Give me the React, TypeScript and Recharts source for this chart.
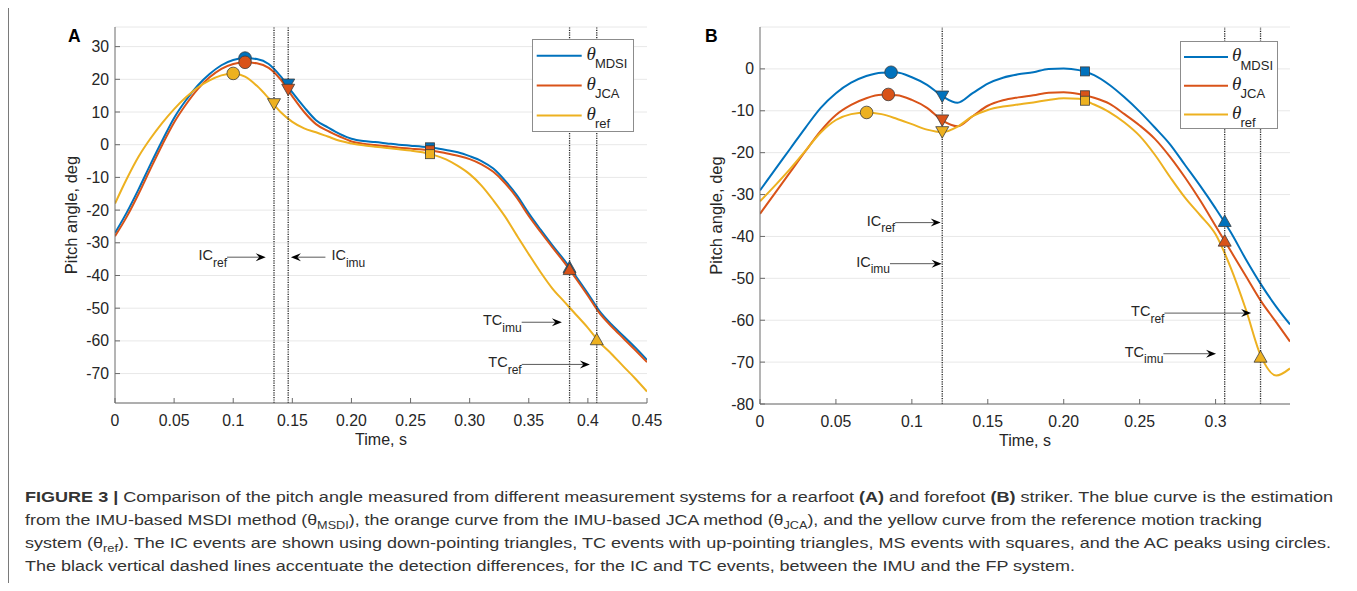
import React from "react";
import {
  CartesianGrid,
  ComposedChart,
  Legend,
  Line,
  ReferenceLine,
  Scatter,
  XAxis,
  YAxis,
} from "recharts";

const SANS = "'Liberation Sans', Arial, Helvetica, sans-serif";
const TEXT = "#262626";
const AXIS = "#6b6b6b";

const seriesKeys = ["mdsi", "jca", "ref"];
const seriesNames = ["MDSI", "JCA", "ref"];
const seriesColors = ["#0072BD", "#D95319", "#EDB120"];

// ---------- panel A: rearfoot striker ----------
const timeA = [
  0, 0.01, 0.02, 0.03, 0.04, 0.05, 0.06, 0.07, 0.08, 0.09, 0.1, 0.11, 0.12, 0.13, 0.14, 0.15,
  0.16, 0.17, 0.18, 0.19, 0.2, 0.21, 0.22, 0.23, 0.24, 0.25, 0.26, 0.27, 0.28, 0.29, 0.3, 0.31,
  0.32, 0.33, 0.34, 0.35, 0.36, 0.37, 0.38, 0.39, 0.4, 0.41, 0.42, 0.43, 0.44, 0.45,
];
const mdsiA = [
  -27, -20.7, -13.6, -6, 1.3, 8.2, 13.6, 18.1, 21.6, 24.3, 25.9, 26.5, 26.2, 24.7, 21, 16, 11.5,
  7.5, 5.3, 3.3, 1.8, 1.1, 0.8, 0.4, 0, -0.3, -0.6, -1, -1.6, -2.3, -3.5, -5, -7.3, -11, -15.5,
  -21, -26, -30.8, -35.3, -40.3, -45.5, -51, -55, -58.5, -62, -65.8,
];
const jcaA = [
  -28, -22, -15, -7.4, 0, 6.8, 12.3, 17, 20.6, 23.2, 24.7, 25.2, 24.9, 23.5, 20, 14.8, 10, 6.3,
  4.2, 2.5, 1, 0.3, -0.1, -0.5, -0.9, -1.2, -1.5, -1.9, -2.6, -3.4, -4.4, -6, -8.3, -11.8, -16.3,
  -21.8, -26.7, -31.4, -36, -41, -46.2, -51.6, -55.6, -59.2, -62.8, -66.5,
];
const refA = [
  -18, -10.4, -3.6, 1.9, 6.7, 10.9, 14.5, 17.5, 19.7, 21.2, 21.8, 20.8, 18, 14.2, 10, 7, 5, 3.8,
  2.5, 1.2, 0.4, -0.2, -0.6, -1, -1.4, -1.8, -2.3, -3.2, -4.5, -6.5, -9, -12.5, -17, -22, -27.8,
  -33.5, -39, -44, -48, -52, -56, -60.5, -64, -67.8, -71.5, -75.5,
];
// events, ordered MDSI, JCA, ref
const acTimeA = [0.11, 0.11, 0.1];
const acValueA = [26.5, 25.2, 21.8];
const icTimeA = [0.1465, 0.1465, 0.1345];
const icValueA = [18.4, 16.8, 12.4];
const msTimeA = [0.2665, 0.2665, 0.2665];
const msValueA = [-0.8, -1.7, -2.9];
const tcTimeA = [0.3845, 0.3845, 0.4075];
const tcValueA = [-37.4, -38, -59.5];
const eventLinesA = [0.1345, 0.1465, 0.3845, 0.4075];
const arrowTextA = ["IC", "IC", "TC", "TC"];
const arrowSubA = ["ref", "imu", "imu", "ref"];
const arrowTailA = [0.0948, 0.178, 0.344, 0.344];
const arrowTipA = [0.1275, 0.1488, 0.378, 0.4017];
const arrowLevelA = [-34.4, -34.4, -54.3, -67.2];
const xTicksA = [0, 0.05, 0.1, 0.15, 0.2, 0.25, 0.3, 0.35, 0.4, 0.45];
const xTickLabelsA = ["0", "0.05", "0.1", "0.15", "0.20", "0.25", "0.30", "0.35", "0.4", "0.45"];
const yTicksA = [30, 20, 10, 0, -10, -20, -30, -40, -50, -60, -70];

// ---------- panel B: forefoot striker ----------
const timeB = [
  0, 0.01, 0.02, 0.03, 0.04, 0.05, 0.06, 0.07, 0.08, 0.09, 0.1, 0.11, 0.12, 0.13, 0.14, 0.15,
  0.16, 0.17, 0.18, 0.19, 0.2, 0.21, 0.22, 0.23, 0.24, 0.25, 0.26, 0.27, 0.28, 0.29, 0.3, 0.31,
  0.32, 0.33, 0.34, 0.349,
];
const mdsiB = [
  -29, -24, -19, -14, -9.3, -5.8, -3.3, -1.7, -0.9, -0.85, -2, -3.8, -6.5, -8.1, -5.8, -3.5, -2.1,
  -1.3, -0.8, 0, 0.1, -0.3, -1.5, -3.8, -6.8, -10.2, -14, -18, -23, -28, -33.3, -39, -45.5, -51.5,
  -56.8, -61,
];
const jcaB = [
  -34.6, -29.6, -24.6, -19.6, -14.8, -11, -8.6, -7, -6.2, -6.3, -7.4, -9.3, -12.3, -13.7, -11.3,
  -8.8, -7.5, -6.8, -6.3, -5.7, -5.6, -6, -6.9, -8.3, -10.8, -13.5, -16.7, -21, -26, -31.5, -37.5,
  -43.5, -49.5, -55.5, -60.5, -65.1,
];
const refB = [
  -31.6, -27.8, -23.8, -19.5, -15.2, -12.2, -10.8, -10.4, -10.8, -11.9, -13.2, -14.5, -15.1,
  -13.8, -11.3, -9.8, -9, -8.5, -8, -7.4, -7, -7.1, -8.5, -10.3, -12.8, -16, -20.5, -25.8, -30.8,
  -35, -39.5, -47.5, -57.5, -68.7, -73.2, -71.5,
];
const acTimeB = [0.0863, 0.0845, 0.0702];
const acValueB = [-0.8, -6.1, -10.4];
const icTimeB = [0.12, 0.12, 0.12];
const icValueB = [-6.6, -12.3, -15.1];
const msTimeB = [0.214, 0.214, 0.214];
const msValueB = [-0.6, -6.3, -7.6];
const tcTimeB = [0.306, 0.306, 0.3296];
const tcValueB = [-36.3, -41, -68.7];
const eventLinesB = [0.12, 0.306, 0.3296];
const arrowTextB = ["IC", "IC", "TC", "TC"];
const arrowSubB = ["ref", "imu", "ref", "imu"];
const arrowTailB = [0.089, 0.0856, 0.2663, 0.2656];
const arrowTipB = [0.119, 0.1196, 0.3234, 0.3003];
const arrowLevelB = [-36.7, -46.5, -58.3, -68];
const xTicksB = [0, 0.05, 0.1, 0.15, 0.2, 0.25, 0.3];
const xTickLabelsB = ["0", "0.05", "0.1", "0.15", "0.20", "0.25", "0.3"];
const yTicksB = [0, -10, -20, -30, -40, -50, -60, -70, -80];

const buildTable = (time: number[], cols: number[][]) =>
  time.map((t, i) => ({ t, mdsi: cols[0][i], jca: cols[1][i], ref: cols[2][i] }));

const buildMarkers = (s: number, ev: { kind: string; time: number[]; value: number[] }[]) =>
  ev.map((e) => ({ t: e.time[s], v: e.value[s], kind: e.kind }));

const markerShape = (color: string) => (p: any) => {
  const { cx, cy, payload } = p;
  const edge = "#3c3c3c";
  if (payload.kind === "ac")
    return <circle cx={cx} cy={cy} r={6.3} fill={color} stroke={edge} strokeWidth={0.8} />;
  if (payload.kind === "ms")
    return <rect x={cx - 4.5} y={cy - 4.5} width={9} height={9} fill={color} stroke={edge} strokeWidth={0.8} />;
  const d = payload.kind === "ic" ? 1 : -1;
  const pts = `${cx - 6.5},${cy - 5.5 * d} ${cx + 6.5},${cy - 5.5 * d} ${cx},${cy + 6 * d}`;
  return <polygon points={pts} fill={color} stroke={edge} strokeWidth={0.8} />;
};

const arrowShape = (main: string, sub: string) => (p: any) => {
  const { x1, y1, x2, y2 } = p;
  const dir = x2 > x1 ? 1 : -1;
  const L = 10;
  const W = 8;
  const bx = x2 - dir * L;
  const nx = x2 - dir * L * 0.65;
  return (
    <g>
      <line x1={x1} y1={y1} x2={nx} y2={y2} stroke="#5a5a5a" strokeWidth={1} />
      <polygon points={`${x2},${y2} ${bx},${y2 - W / 2} ${nx},${y2} ${bx},${y2 + W / 2}`} fill="#000" />
      <text
        x={dir > 0 ? x1 : x1 + 6}
        y={y1 + 3}
        textAnchor={dir > 0 ? "end" : "start"}
        fontFamily={SANS}
        fontSize={14.5}
        fill={TEXT}
      >
        {main}
        <tspan dy={6.5} fontSize={12}>
          {sub}
        </tspan>
      </text>
    </g>
  );
};

const xTick = (ticks: number[], labels: string[]) => (p: any) => {
  const { x, y, payload } = p;
  const i = ticks.findIndex((v) => Math.abs(v - payload.value) < 1e-9);
  return (
    <g>
      <line x1={x} y1={y} x2={x} y2={y - 5} stroke={AXIS} />
      <text x={x} y={y + 23} textAnchor="middle" fontFamily={SANS} fontSize={15.8} fill={TEXT}>
        {labels[i]}
      </text>
    </g>
  );
};

const yTick = (p: any) => {
  const { x, y, payload } = p;
  return (
    <g>
      <line x1={x} y1={y} x2={x + 5} y2={y} stroke={AXIS} />
      <text x={x - 6} y={y + 5.5} textAnchor="end" fontFamily={SANS} fontSize={15.8} fill={TEXT}>
        {payload.value}
      </text>
    </g>
  );
};

type LegendBox = { w: number; h: number; row0: number; gap: number; lx0: number; lx1: number; tx: number };

const legendContent = (b: LegendBox) => (props: any) => {
  const items = (props.payload || [])
    .filter((it: any) => seriesNames.includes(it.value))
    .sort((a: any, c: any) => seriesNames.indexOf(a.value) - seriesNames.indexOf(c.value));
  return (
    <div
      style={{
        width: b.w,
        height: b.h,
        boxSizing: "border-box",
        border: "1px solid #8c8c8c",
        background: "#fff",
      }}
    >
      <svg width={b.w - 2} height={b.h - 2} style={{ display: "block", overflow: "visible" }}>
        {items.map((it: any, i: number) => {
          const y = b.row0 + i * b.gap;
          return (
            <g key={it.value}>
              <line x1={b.lx0} x2={b.lx1} y1={y} y2={y} stroke={it.color} strokeWidth={2} />
              <text
                x={b.tx}
                y={y + 4}
                fontFamily="'Liberation Serif', 'DejaVu Serif', serif"
                fontStyle="italic"
                fontSize={19}
                fill={TEXT}
              >
                θ
              </text>
              <text x={b.tx + 8.5} y={y + 12.5} fontFamily={SANS} fontSize={13} fill={TEXT}>
                {it.value}
              </text>
            </g>
          );
        })}
      </svg>
    </div>
  );
};

type PanelProps = {
  left: number;
  width: number;
  yAxisWidth: number;
  marginRight: number;
  marginBottom: number;
  time: number[];
  cols: number[][];
  events: { kind: string; time: number[]; value: number[] }[];
  xDomain: [number, number];
  yDomain: [number, number];
  xTicks: number[];
  xLabels: string[];
  yTicks: number[];
  eventLines: number[];
  arrowText: string[];
  arrowSub: string[];
  arrowTail: number[];
  arrowTip: number[];
  arrowLevel: number[];
  legendPos: { left: number; top: number };
  legendBox: LegendBox;
};

const PitchPanel = (p: PanelProps) => {
  const table = buildTable(p.time, p.cols);
  return (
    <div style={{ position: "absolute", left: p.left, top: 0 }}>
      <ComposedChart
        width={p.width}
        height={455}
        data={table}
        margin={{ top: 19, right: p.marginRight, bottom: p.marginBottom, left: 0 }}
      >
        <CartesianGrid vertical={false} stroke="#e8e8e8" />
        <XAxis
          dataKey="t"
          type="number"
          domain={p.xDomain}
          allowDataOverflow
          ticks={p.xTicks}
          interval={0}
          height={50}
          tickSize={0}
          tickMargin={0}
          tickLine={false}
          axisLine={{ stroke: AXIS }}
          tick={xTick(p.xTicks, p.xLabels)}
          label={(lp: any) => {
            const vb = lp.viewBox;
            return (
              <text x={vb.x + vb.width / 2} y={vb.y + 42} textAnchor="middle" fontFamily={SANS} fontSize={16} fill={TEXT}>
                Time, s
              </text>
            );
          }}
        />
        <YAxis
          type="number"
          domain={p.yDomain}
          allowDataOverflow
          ticks={p.yTicks}
          interval={0}
          width={p.yAxisWidth}
          tickSize={0}
          tickMargin={0}
          tickLine={false}
          axisLine={{ stroke: AXIS }}
          tick={yTick}
          label={(lp: any) => {
            const vb = lp.viewBox;
            const x = vb.x + vb.width - 38;
            const y = vb.y + vb.height / 2;
            return (
              <text
                x={x}
                y={y}
                transform={`rotate(-90, ${x}, ${y})`}
                textAnchor="middle"
                fontFamily={SANS}
                fontSize={16.5}
                fill={TEXT}
              >
                Pitch angle, deg
              </text>
            );
          }}
        />
        {seriesKeys.map((k, s) => (
          <Line
            key={k}
            dataKey={k}
            name={seriesNames[s]}
            type="monotone"
            stroke={seriesColors[s]}
            strokeWidth={2}
            dot={false}
            activeDot={false}
            isAnimationActive={false}
          />
        ))}
        {seriesKeys.map((k, s) => (
          <Scatter
            key={`m-${k}`}
            data={buildMarkers(s, p.events)}
            dataKey="v"
            fill={seriesColors[s]}
            legendType="none"
            shape={markerShape(seriesColors[s])}
            isAnimationActive={false}
          />
        ))}
        {p.eventLines.map((x) => (
          <ReferenceLine key={`v-${x}`} x={x} stroke="#222" strokeWidth={1.3} strokeDasharray="1.2 1.2" />
        ))}
        {p.arrowText.map((txt, i) => (
          <ReferenceLine
            key={`a-${i}`}
            segment={[
              { x: p.arrowTail[i], y: p.arrowLevel[i] },
              { x: p.arrowTip[i], y: p.arrowLevel[i] },
            ]}
            ifOverflow="visible"
            shape={arrowShape(txt, p.arrowSub[i])}
          />
        ))}
        <Legend
          layout="horizontal"
          verticalAlign="middle"
          align="center"
          content={legendContent(p.legendBox)}
          wrapperStyle={{ left: p.legendPos.left, top: p.legendPos.top, width: p.legendBox.w }}
        />
      </ComposedChart>
    </div>
  );
};

const eventsOf = (time: number[][], value: number[][]) =>
  ["ac", "ic", "ms", "tc"].map((kind, i) => ({ kind, time: time[i], value: value[i] }));

export default function App() {
  return (
    <div style={{ position: "relative", width: 1341, height: 575, fontFamily: SANS }}>
      <PitchPanel
        left={0}
        width={660}
        yAxisWidth={107}
        marginRight={21}
        marginBottom={10}
        time={timeA}
        cols={[mdsiA, jcaA, refA]}
        events={eventsOf([acTimeA, icTimeA, msTimeA, tcTimeA], [acValueA, icValueA, msValueA, tcValueA])}
        xDomain={[0, 0.45]}
        yDomain={[-79, 36]}
        xTicks={xTicksA}
        xLabels={xTickLabelsA}
        yTicks={yTicksA}
        eventLines={eventLinesA}
        arrowText={arrowTextA}
        arrowSub={arrowSubA}
        arrowTail={arrowTailA}
        arrowTip={arrowTipA}
        arrowLevel={arrowLevelA}
        legendPos={{ left: 524, top: 31 }}
        legendBox={{ w: 102, h: 93, row0: 15.7, gap: 29.9, lx0: 3.7, lx1: 48.7, tx: 53.4 }}
      />
      <PitchPanel
        left={672}
        width={640}
        yAxisWidth={80}
        marginRight={30}
        marginBottom={9}
        time={timeB}
        cols={[mdsiB, jcaB, refB]}
        events={eventsOf([acTimeB, icTimeB, msTimeB, tcTimeB], [acValueB, icValueB, msValueB, tcValueB])}
        xDomain={[0, 0.349]}
        yDomain={[-80, 10]}
        xTicks={xTicksB}
        xLabels={xTickLabelsB}
        yTicks={yTicksB}
        eventLines={eventLinesB}
        arrowText={arrowTextB}
        arrowSub={arrowSubB}
        arrowTail={arrowTailB}
        arrowTip={arrowTipB}
        arrowLevel={arrowLevelB}
        legendPos={{ left: 500, top: 32.7 }}
        legendBox={{ w: 98, h: 88, row0: 15, gap: 28.8, lx0: 3, lx1: 47, tx: 51 }}
      />
      <svg
        width={1341}
        height={575}
        style={{ position: "absolute", left: 0, top: 0, pointerEvents: "none", overflow: "visible" }}
      >
        <line x1={0.5} x2={0.5} y1={-8} y2={583} stroke="#7a7a7a" strokeWidth={1} />
        <line x1={1341.5} x2={1341.5} y1={-8} y2={583} stroke="#7a7a7a" strokeWidth={1} />
        <text x={60} y={34} fontFamily={SANS} fontWeight="bold" fontSize={17.5} fill="#000">
          A
        </text>
        <text x={697} y={34} fontFamily={SANS} fontWeight="bold" fontSize={17.5} fill="#000">
          B
        </text>
        <g fontFamily={`'Liberation Sans Narrow', ${SANS}`} fontSize={15.5} fill="#333">
          <text x={17} y={494} textLength={1308} lengthAdjust="spacingAndGlyphs">
            <tspan fontWeight="bold">FIGURE 3 |</tspan>
            <tspan> Comparison of the pitch angle measured from different measurement systems for a rearfoot </tspan>
            <tspan fontWeight="bold">(A)</tspan>
            <tspan> and forefoot </tspan>
            <tspan fontWeight="bold">(B)</tspan>
            <tspan> striker. The blue curve is the estimation</tspan>
          </text>
          <text x={17} y={517} textLength={1237} lengthAdjust="spacingAndGlyphs">
            <tspan>from the IMU-based MSDI method (θ</tspan>
            <tspan dy={4} fontSize={11}>MSDI</tspan>
            <tspan dy={-4}>), the orange curve from the IMU-based JCA method (θ</tspan>
            <tspan dy={4} fontSize={11}>JCA</tspan>
            <tspan dy={-4}>), and the yellow curve from the reference motion tracking</tspan>
          </text>
          <text x={17} y={540} textLength={1306} lengthAdjust="spacingAndGlyphs">
            <tspan>system (θ</tspan>
            <tspan dy={4} fontSize={11}>ref</tspan>
            <tspan dy={-4}>). The IC events are shown using down-pointing triangles, TC events with up-pointing triangles, MS events with squares, and the AC peaks using circles.</tspan>
          </text>
          <text x={17} y={563} textLength={1050} lengthAdjust="spacingAndGlyphs">
            The black vertical dashed lines accentuate the detection differences, for the IC and TC events, between the IMU and the FP system.
          </text>
        </g>
      </svg>
    </div>
  );
}
